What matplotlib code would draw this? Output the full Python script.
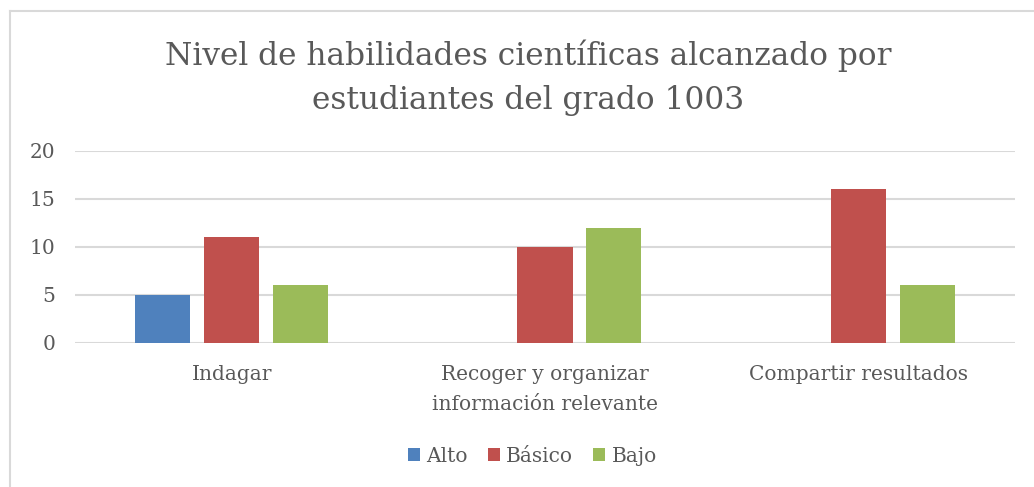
import numpy as np
import matplotlib
matplotlib.use("Agg")
import matplotlib.pyplot as plt
from matplotlib.lines import Line2D

# data
categories = ["Indagar", "Recoger y organizar\ninformación relevante", "Compartir resultados"]
series = ["Alto", "Básico", "Bajo"]
alto = [5, 0, 0]
basico = [11, 10, 16]
bajo = [6, 12, 6]
colors = ["#4F81BD", "#C0504D", "#9BBB59"]
yticks = [0, 5, 10, 15, 20]

plt.rcParams["font.family"] = ["DejaVu Serif"]
text_color = "#595959"

fig = plt.figure(figsize=(10.34, 4.87), dpi=100)
ax = fig.add_axes([0.0725, 0.2957, 0.9091, 0.3943])

x = np.arange(len(categories))
width = 0.176
offset = 0.22
for i, (name, vals) in enumerate(zip(series, [alto, basico, bajo])):
    ax.bar(x + (i - 1) * offset, vals, width, color=colors[i], label=name, zorder=3)

ax.set_xlim(-0.5, 2.5)
ax.set_ylim(0, 20)
ax.set_yticks(yticks)
ax.set_xticks(x)
ax.set_xticklabels(categories, fontsize=14.5, color=text_color, linespacing=1.7)
ax.tick_params(axis="y", labelsize=14.5, colors=text_color, length=0, pad=14)
ax.tick_params(axis="x", length=0, pad=16)
ax.grid(axis="y", color="#D9D9D9", linewidth=1.5, zorder=0)
for s in ax.spines.values():
    s.set_visible(False)

fig.text(0.511, 0.84, "Nivel de habilidades científicas alcanzado por\nestudiantes del grado 1003",
         ha="center", va="center", fontsize=22.5, color=text_color, linespacing=1.55)

leg = fig.legend(loc="center", bbox_to_anchor=(0.515, 0.063), ncol=3, frameon=False,
                 fontsize=14.5, handlelength=0.6, handleheight=0.6, handletextpad=0.3,
                 columnspacing=1.0)
for t in leg.get_texts():
    t.set_color(text_color)

# chart border: only the top and left edges are visible
fig.add_artist(Line2D([10 / 1034, 1.0], [1 - 11 / 487, 1 - 11 / 487], transform=fig.transFigure,
                      color="#D9D9D9", linewidth=1.5))
fig.add_artist(Line2D([10 / 1034, 10 / 1034], [0.0, 1 - 11 / 487], transform=fig.transFigure,
                      color="#D9D9D9", linewidth=1.5))

fig.savefig("out.png", dpi=100)
